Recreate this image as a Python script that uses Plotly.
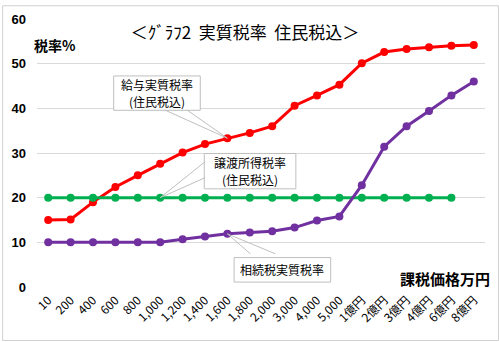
import plotly.graph_objects as go

categories = ["10", "200", "400", "600", "800", "1,000", "1,200", "1,400", "1,600", "1,800",
              "2,000", "3,000", "4,000", "5,000", "1億円", "2億円", "3億円", "4億円", "6億円", "8億円"]
salary_rate = [15.0, 15.1, 19.0, 22.4, 25.0, 27.6, 30.1, 32.0, 33.3, 34.5,
               36.0, 40.6, 42.9, 45.3, 50.1, 52.6, 53.3, 53.7, 54.0, 54.2]
transfer_rate = [20, 20, 20, 20, 20, 20, 20, 20, 20, 20,
                 20, 20, 20, 20, 20, 20, 20, 20, 20, None]
inherit_rate = [10.0, 10.0, 10.0, 10.0, 10.0, 10.0, 10.7, 11.3, 11.9, 12.2,
                12.5, 13.3, 14.9, 15.8, 22.8, 31.4, 36.0, 39.4, 42.9, 46.0]
y_ticks = [0, 10, 20, 30, 40, 50, 60]

JP = "Noto Sans CJK JP"
fig = go.Figure()
series = [("給与実質税率", salary_rate, "#ff0000"),
          ("譲渡所得税率", transfer_rate, "#00b050"),
          ("相続税実質税率", inherit_rate, "#7030a0")]
for name, vals, col in series:
    fig.add_trace(go.Scatter(x=categories, y=vals, mode="lines+markers", name=name,
                             line=dict(color=col, width=3), marker=dict(color=col, size=8),
                             connectgaps=False))

W, H = 499, 342
L, R, T, B = 35, 14, 14, 55
pw, ph = W - L - R, H - T - B

def px(x):
    return (x - L) / pw

def py(y):
    return (H - B - y) / ph

annos = []
shapes = []
# callout boxes: (lines, left, top, right, bottom)
boxes = [(["給与実質税率", "(住民税込)"], 112, 72, 199, 107),
         (["譲渡所得税率", "(住民税込)"], 203, 151, 295, 187),
         (["相続税実質税率"], 233, 257, 330, 282)]
for lines, x0, y0, x1, y1 in boxes:
    shapes.append(dict(type="rect", xref="paper", yref="paper",
                       x0=px(x0), x1=px(x1), y0=py(y1), y1=py(y0),
                       fillcolor="white", line=dict(color="#bfbfbf", width=1), layer="above"))
    n = len(lines)
    cy = (y0 + y1) / 2
    for k, t in enumerate(lines):
        ly = cy + (k - (n - 1) / 2) * 17.5
        annos.append(dict(text=t, x=px((x0 + x1) / 2), y=py(ly), xref="paper", yref="paper",
                          xanchor="center", yanchor="middle", showarrow=False,
                          font=dict(family=JP, size=12, color="black")))
annos.append(dict(text="税率%", x=px(53), y=py(40), xref="paper", yref="paper",
                  xanchor="center", yanchor="middle", showarrow=False,
                  font=dict(family=JP, size=14, color="black", weight="bold")))
annos.append(dict(text="課税価格万円", x=px(445), y=py(278.5), xref="paper", yref="paper",
                  xanchor="center", yanchor="middle", showarrow=False,
                  font=dict(family=JP, size=15, color="black", weight="bold")))

# callout wedges anchored on data points (pixel offsets)
wedges = [(8, salary_rate[8], "M-62,28 L0,0 L-40,28"),
          (5, transfer_rate[5], "M45,36 L0,0 L45,20"),
          (8, inherit_rate[8], "M23,-20 L0,0 L48,-20")]
for idx, val, path in wedges:
    shapes.append(dict(type="path", xref="x", yref="y", xsizemode="pixel", ysizemode="pixel",
                       xanchor=idx, yanchor=val, path=path,
                       line=dict(color="#bfbfbf", width=1), layer="above"))
shapes.append(dict(type="rect", xref="paper", yref="paper",
                   x0=px(0.5), x1=px(W - 0.5), y0=py(H - 0.5), y1=py(0.5),
                   line=dict(color="#d0d0d0", width=1), layer="below"))

fig.update_layout(
    width=W, height=H, margin=dict(l=L, r=R, t=T, b=B),
    paper_bgcolor="white", plot_bgcolor="white", showlegend=False,
    title=dict(text="＜ｸﾞﾗﾌ2  実質税率  住民税込＞", x=245 / W, y=1 - 33 / H,
               xanchor="center", yanchor="middle",
               font=dict(family=JP, size=17, color="black")),
    annotations=annos, shapes=shapes,
    xaxis=dict(type="category", tickangle=-45, showgrid=False, showline=False,
               ticks="", tickfont=dict(family=JP, size=12, color="black"),
               ticklabelstandoff=3,
               range=[-0.5, len(categories) - 0.5]),
    yaxis=dict(range=[0, 60], tickvals=y_ticks, showgrid=True, gridcolor="#d9d9d9",
               gridwidth=1, zeroline=False, showline=False, ticks="",
               ticklabelstandoff=10,
               tickfont=dict(family="Liberation Sans", size=13, color="black", weight="bold")),
)
fig.write_html("out.html")
